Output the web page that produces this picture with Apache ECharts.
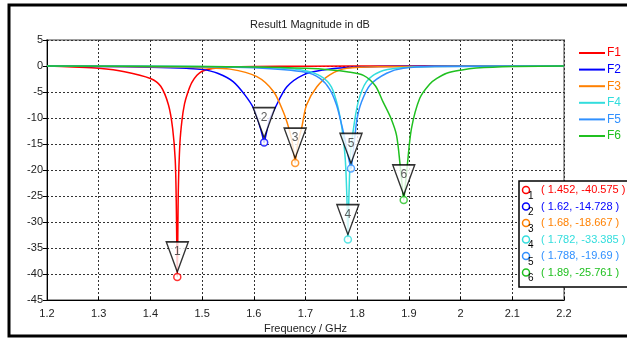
<!DOCTYPE html>
<html>
<head>
<meta charset="utf-8">
<script src="https://cdn.jsdelivr.net/npm/echarts@6/dist/echarts.min.js"></script>
<style>
    html, body { margin: 0; padding: 0; background: #fff; }
    #chart { width: 627px; height: 338px; }
</style>
</head>
<body>
<div id="chart"></div>
<script>
var seriesNames = ['F1', 'F2', 'F3', 'F4', 'F5', 'F6'];
var seriesColors = ['#ff0000', '#0000ff', '#ff8000', '#33dddd', '#3090ff', '#20c020'];

// frequency (GHz) / magnitude (dB)
var freqF1 = [1.2, 1.25, 1.3, 1.35, 1.4, 1.42, 1.435, 1.443, 1.448, 1.45, 1.452, 1.454, 1.457, 1.461, 1.466, 1.472, 1.48, 1.49, 1.5, 1.52, 1.55, 1.6, 1.7, 1.9, 2.2];
var dbF1 = [0, -0.2, -0.45, -1.1, -2.4, -3.9, -7.5, -12, -18, -26, -40.575, -24, -15, -10.5, -7.3, -5.2, -3.2, -1.8, -1.0, -0.5, -0.25, -0.1, -0.05, 0, 0];

var freqF2 = [1.2, 1.3, 1.4, 1.47, 1.5, 1.53, 1.56, 1.583, 1.6, 1.61, 1.617, 1.62, 1.623, 1.63, 1.641, 1.664, 1.696, 1.734, 1.78, 1.85, 1.95, 2.2];
var dbF2 = [0, -0.1, -0.25, -0.45, -0.65, -1.4, -3.0, -5.6, -8.2, -11, -13.5, -14.728, -13.5, -10.5, -8.1, -4, -1.7, -0.77, -0.3, -0.1, 0, 0];

var freqF3 = [1.2, 1.35, 1.45, 1.5, 1.554, 1.606, 1.638, 1.657, 1.667, 1.674, 1.678, 1.68, 1.682, 1.686, 1.693, 1.702, 1.722, 1.747, 1.78, 1.85, 2.2];
var dbF3 = [0, -0.1, -0.2, -0.35, -0.6, -2.05, -4.9, -8.8, -11.7, -14.5, -17, -18.667, -17, -14.5, -11.7, -7.5, -4, -1.7, -0.45, -0.15, 0];

var freqF4 = [1.2, 1.5, 1.65, 1.7, 1.73, 1.75, 1.763, 1.772, 1.777, 1.78, 1.782, 1.784, 1.787, 1.792, 1.802, 1.818, 1.844, 1.88, 1.95, 2.2];
var dbF4 = [0, -0.1, -0.4, -0.9, -2, -4, -8, -13, -18, -25, -33.385, -25, -17, -12.6, -6.9, -3.0, -1.1, -0.4, -0.1, 0];

var freqF5 = [1.2, 1.5, 1.6, 1.7, 1.728, 1.747, 1.76, 1.768, 1.775, 1.781, 1.786, 1.788, 1.79, 1.795, 1.8, 1.808, 1.825, 1.857, 1.889, 1.95, 2.2];
var dbF5 = [0, -0.15, -0.35, -1.2, -2.4, -4.5, -7.5, -10.5, -13.5, -16.5, -19, -19.69, -18.5, -14, -10, -7, -3.65, -1.4, -0.45, -0.1, 0];

var freqF6 = [1.2, 1.5, 1.6, 1.7, 1.75, 1.78, 1.812, 1.835, 1.85, 1.865, 1.876, 1.883, 1.887, 1.89, 1.893, 1.897, 1.905, 1.921, 1.94, 1.954, 1.973, 2.0, 2.03, 2.1, 2.2];
var dbF6 = [0, -0.1, -0.2, -0.45, -0.75, -1.1, -1.8, -3.8, -6.9, -10, -13.3, -19, -23, -25.761, -23, -19, -12, -6.2, -3.5, -2.4, -1.4, -0.8, -0.4, -0.1, 0];

// markers
var markerFreq = [1.452, 1.62, 1.68, 1.782, 1.788, 1.89];
var markerDb = [-40.575, -14.728, -18.667, -33.385, -19.69, -25.761];
var markerNum = ['1', '2', '3', '4', '5', '6'];

var allFreq = [freqF1, freqF2, freqF3, freqF4, freqF5, freqF6];
var allDb = [dbF1, dbF2, dbF3, dbF4, dbF5, dbF6];

var FONT = 'Liberation Sans';

function pairs(xs, ys) {
    var res = [];
    for (var i = 0; i < xs.length; i++) {
        res.push([xs[i], ys[i]]);
    }
    return res;
}

function drawChart() {
    var myChart = echarts.init(document.getElementById('chart'));

    var series = [];
    for (var i = 0; i < seriesNames.length; i++) {
        series.push({
            name: seriesNames[i],
            type: 'line',
            data: pairs(allFreq[i], allDb[i]),
            symbol: 'none',
            smooth: 0.3,
            color: seriesColors[i],
            lineStyle: {width: 1.5},
            z: 2
        });
    }

    // triangle flags with the marker number
    var flagData = [], dotData = [];
    for (var k = 0; k < markerFreq.length; k++) {
        flagData.push({value: [markerFreq[k], markerDb[k]], label: {formatter: markerNum[k]}});
        dotData.push({
            value: [markerFreq[k], markerDb[k]],
            itemStyle: {color: '#fff', borderColor: seriesColors[k], borderWidth: 1.5}
        });
    }
    series.push({
        name: 'flags',
        type: 'scatter',
        data: flagData,
        symbol: 'path://M0,0 L22,0 L11,30 Z',
        symbolSize: [22, 30],
        symbolOffset: [0, -20],
        itemStyle: {color: '#fff', borderColor: '#000', borderWidth: 1.5},
        label: {
            show: true,
            position: 'inside',
            offset: [0, -5],
            color: '#333',
            fontFamily: FONT,
            fontSize: 12
        },
        silent: true,
        z: 3
    });
    series.push({
        name: 'dots',
        type: 'scatter',
        data: dotData,
        symbol: 'circle',
        symbolSize: 7,
        silent: true,
        z: 4
    });

    // outer frame and marker readout box
    var graphics = [{
        type: 'rect',
        shape: {x: 9, y: 5, width: 640, height: 331},
        style: {fill: 'none', stroke: '#000', lineWidth: 3},
        z: 10
    }, {
        type: 'rect',
        shape: {x: 519, y: 181, width: 120, height: 106},
        style: {fill: '#fff', stroke: '#000', lineWidth: 1.5},
        z: 20
    }];
    for (var m = 0; m < markerFreq.length; m++) {
        var ry = 190 + m * 16.5;
        graphics.push({
            type: 'circle',
            shape: {cx: 526, cy: ry, r: 3.5},
            style: {fill: '#fff', stroke: seriesColors[m], lineWidth: 1.5},
            z: 21
        });
        graphics.push({
            type: 'text',
            x: 528, y: ry + 1,
            style: {text: markerNum[m], fill: '#000', font: '10px ' + FONT},
            z: 21
        });
        graphics.push({
            type: 'text',
            x: 541, y: ry,
            style: {
                text: '( ' + markerFreq[m] + ', ' + markerDb[m] + ' )',
                fill: seriesColors[m],
                font: '11px ' + FONT,
                verticalAlign: 'middle'
            },
            z: 21
        });
    }

    var legendData = [];
    for (var j = 0; j < seriesNames.length; j++) {
        legendData.push({name: seriesNames[j], icon: 'rect', textStyle: {color: seriesColors[j]}});
    }

    var option = {
        backgroundColor: '#fff',
        animation: false,
        title: {
            text: 'Result1 Magnitude in dB',
            left: 305,
            top: 14,
            textAlign: 'center',
            textStyle: {fontFamily: FONT, fontSize: 11, fontWeight: 'normal', color: '#222'}
        },
        legend: {
            data: legendData,
            orient: 'vertical',
            left: 574,
            top: 42,
            itemWidth: 26,
            itemHeight: 2,
            itemGap: 4.6,
            textStyle: {fontFamily: FONT, fontSize: 12, padding: [0, 0, 0, -3]}
        },
        grid: {
            left: 47,
            right: 63,
            top: 40,
            bottom: 38,
            outerBoundsMode: 'none',
            show: true,
            borderColor: '#a0a0a0',
            borderWidth: 2,
            backgroundColor: 'transparent'
        },
        xAxis: {
            type: 'value',
            min: 1.2,
            max: 2.2,
            interval: 0.1,
            name: 'Frequency / GHz',
            nameLocation: 'middle',
            nameGap: 23,
            nameTextStyle: {fontFamily: FONT, fontSize: 11, color: '#222'},
            axisLine: {onZero: false, lineStyle: {color: '#000'}},
            axisTick: {show: true, inside: true, length: 3, lineStyle: {color: '#000'}},
            axisLabel: {fontFamily: FONT, fontSize: 11, color: '#222', margin: 8},
            splitLine: {show: true, lineStyle: {color: '#333', type: [2, 2]}}
        },
        yAxis: {
            type: 'value',
            min: -45,
            max: 5,
            interval: 5,
            axisLine: {show: true, onZero: false, lineStyle: {color: '#000'}},
            axisTick: {show: true, length: 4, lineStyle: {color: '#000'}},
            axisLabel: {fontFamily: FONT, fontSize: 11, color: '#222', margin: 4},
            splitLine: {show: true, lineStyle: {color: '#333', type: [2, 2]}}
        },
        graphic: graphics,
        series: series
    };

    myChart.setOption(option);
}

drawChart();
</script>
</body>
</html>
